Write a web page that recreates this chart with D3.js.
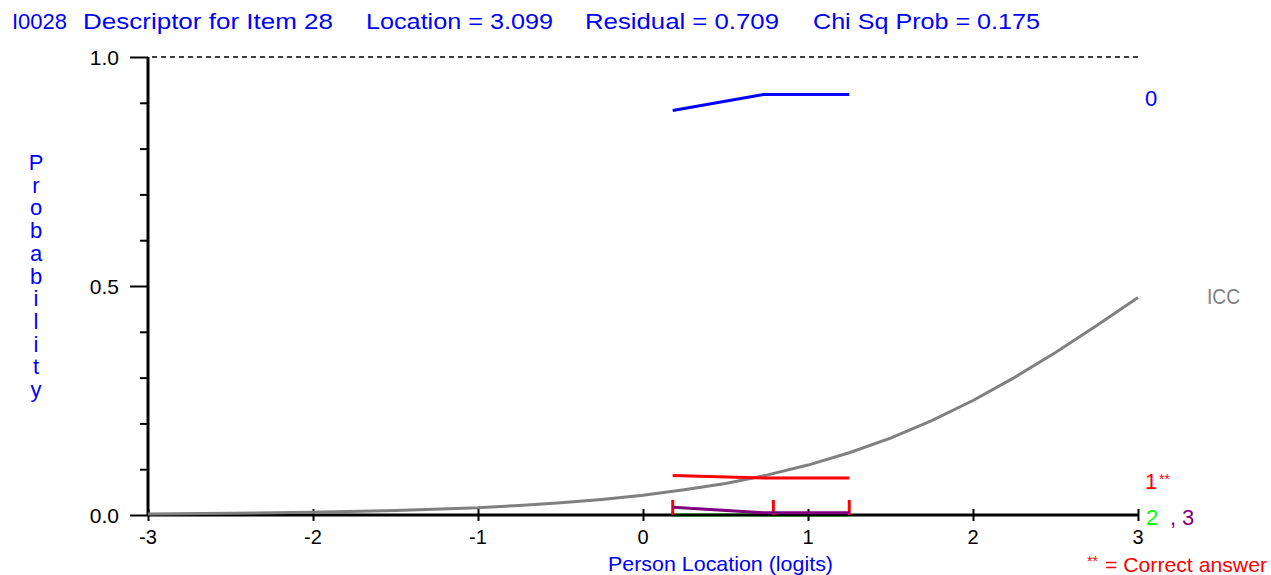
<!DOCTYPE html>
<html>
<head>
<meta charset="utf-8">
<script src="https://cdn.jsdelivr.net/npm/d3@7"></script>
<style>
  html, body { margin: 0; padding: 0; background: #ffffff; }
  svg { display: block; font-family: "Liberation Sans", Arial, sans-serif; }
</style>
</head>
<body>
<svg id="chart" width="1271" height="575"></svg>
<script>
// ---------- data ----------
const titleParts = ["I0028", "Descriptor for Item 28", "Location = 3.099", "Residual = 0.709", "Chi Sq Prob = 0.175"];
const xTickValues = [-3, -2, -1, 0, 1, 2, 3];
const xTickLabels = ["-3", "-2", "-1", "0", "1", "2", "3"];
const yMajorValues = [0, 0.5, 1.0];
const yTickLabels = ["0.0", "0.5", "1.0"];
const yMinorValues = [0.1, 0.2, 0.3, 0.4, 0.6, 0.7, 0.8, 0.9];

// ICC (expected probability of correct answer)
const iccX = [-3, -2.5, -2, -1.5, -1, -0.75, -0.5, -0.25, 0, 0.25, 0.5, 0.75, 1, 1.25, 1.5, 1.75, 2, 2.25, 2.5, 2.75, 3];
const iccY = [0.002, 0.004, 0.006, 0.010, 0.016, 0.021, 0.027, 0.034, 0.043, 0.055, 0.069, 0.087, 0.109, 0.136, 0.168, 0.206, 0.250, 0.300, 0.355, 0.414, 0.475];

// observed proportions per class interval, by response option
const classX = [0.18, 0.73, 1.25];
const option0 = [0.883, 0.918, 0.918];
const option1 = [0.086, 0.081, 0.081];
const option2 = [0.0, 0.0, 0.0];
const option3 = [0.017, 0.005, 0.005];
const classBounds = [0.18, 0.79, 1.25];

const optionLabels = ["0", "1", "2", "3"];
const optionColors = ["#0000ff", "#ff0000", "#00ff00", "#800080"];

// ---------- drawing ----------
const svg = d3.select("#chart");
const x = d3.scaleLinear().domain([-3, 3]).range([148, 1138]);
const y = d3.scaleLinear().domain([0, 1]).range([515, 57]);
const line = d3.line().x(d => x(d[0])).y(d => y(d[1]));

function txt(str, px, py, opts) {
  const t = svg.append("text")
    .attr("x", px).attr("y", py)
    .attr("fill", opts.color || "#000")
    .attr("font-size", opts.size || 20)
    .attr("text-anchor", opts.anchor || "start")
    .text(str);
  if (opts.len) t.attr("textLength", opts.len).attr("lengthAdjust", "spacingAndGlyphs");
  return t;
}

// title
const titleX = [12, 83, 366, 585, 813];
const titleW = [55, 250, 187, 194, 227];
titleParts.forEach((s, i) => txt(s, titleX[i], 29, {color: "#0000ff", size: 22, len: titleW[i]}));

// dashed line at 1.0
svg.append("line")
  .attr("x1", x(-3) + 4).attr("x2", x(3))
  .attr("y1", y(1)).attr("y2", y(1))
  .attr("stroke", "#000").attr("stroke-width", 1.6)
  .attr("stroke-dasharray", "5,4");

// option 2 curve (lies on the axis, hidden by it)
svg.append("path")
  .datum(classX.map((v, i) => [v, option2[i]]))
  .attr("d", line)
  .attr("fill", "none").attr("stroke", optionColors[2]).attr("stroke-width", 3);

// y axis
const yAxisMajor = d3.axisLeft(y).tickValues(yMajorValues).tickSize(18).tickFormat("");
const yAxisMinor = d3.axisLeft(y).tickValues(yMinorValues).tickSize(8).tickFormat("");
const gyMinor = svg.append("g").attr("transform", `translate(${x(-3)},0)`).call(yAxisMinor);
const gyMajor = svg.append("g").attr("transform", `translate(${x(-3)},0)`).call(yAxisMajor);
[gyMinor, gyMajor].forEach(g => {
  g.select(".domain").remove();
  g.selectAll(".tick line").attr("stroke", "#000").attr("stroke-width", 2);
});
svg.append("line")
  .attr("x1", x(-3)).attr("x2", x(-3))
  .attr("y1", y(1)).attr("y2", y(0))
  .attr("stroke", "#000").attr("stroke-width", 3);
yMajorValues.forEach((v, i) => txt(yTickLabels[i], 119, y(v) + 7.5, {size: 21, anchor: "end"}));

// x axis
const gx = svg.append("g").attr("transform", `translate(0,${y(0)})`)
  .call(d3.axisBottom(x).tickValues(xTickValues).tickSize(6).tickFormat(""));
gx.select(".domain").remove();
gx.selectAll(".tick line").attr("y1", -6).attr("y2", 6).attr("stroke", "#000").attr("stroke-width", 2);
svg.append("line")
  .attr("x1", x(-3)).attr("x2", x(3))
  .attr("y1", y(0)).attr("y2", y(0))
  .attr("stroke", "#000").attr("stroke-width", 3);
xTickValues.forEach((v, i) => txt(xTickLabels[i], x(v), 544, {size: 20, anchor: "middle"}));

// axis titles
txt("Person Location (logits)", 608, 571, {color: "#0000ff", size: 21, len: 225});
"Probability".split("").forEach((c, i) => txt(c, 36, 170 + i * 22.7, {color: "#0000ff", size: 22, anchor: "middle"}));

// ICC
svg.append("path")
  .datum(iccX.map((v, i) => [v, iccY[i]]))
  .attr("d", line)
  .attr("fill", "none").attr("stroke", "#808080").attr("stroke-width", 3);

// class interval boundaries
classBounds.forEach(b => {
  svg.append("line")
    .attr("x1", x(b)).attr("x2", x(b))
    .attr("y1", y(0)).attr("y2", y(0) - 15)
    .attr("stroke", "#ff0000").attr("stroke-width", 3);
});

// observed option curves
[option0, option1, option3].forEach((vals, k) => {
  const col = [optionColors[0], optionColors[1], optionColors[3]][k];
  svg.append("path")
    .datum(classX.map((v, i) => [v, vals[i]]))
    .attr("d", line)
    .attr("fill", "none").attr("stroke", col).attr("stroke-width", 3);
});

// right-side labels
txt(optionLabels[0], 1145, 106, {color: optionColors[0], size: 22});
txt("ICC", 1207, 304, {color: "#808080", size: 22, len: 33});
txt(optionLabels[1], 1145, 489, {color: optionColors[1], size: 22});
txt("**", 1159, 484, {color: optionColors[1], size: 14});
txt(optionLabels[2], 1146, 525, {color: optionColors[2], size: 22});
txt(",", 1170, 525, {color: optionColors[3], size: 22});
txt(optionLabels[3], 1182, 525, {color: optionColors[3], size: 22});
txt("**", 1087, 566, {color: "#ff0000", size: 14});
txt("= Correct answer", 1105, 572, {color: "#ff0000", size: 21, len: 162});
</script>
</body>
</html>
